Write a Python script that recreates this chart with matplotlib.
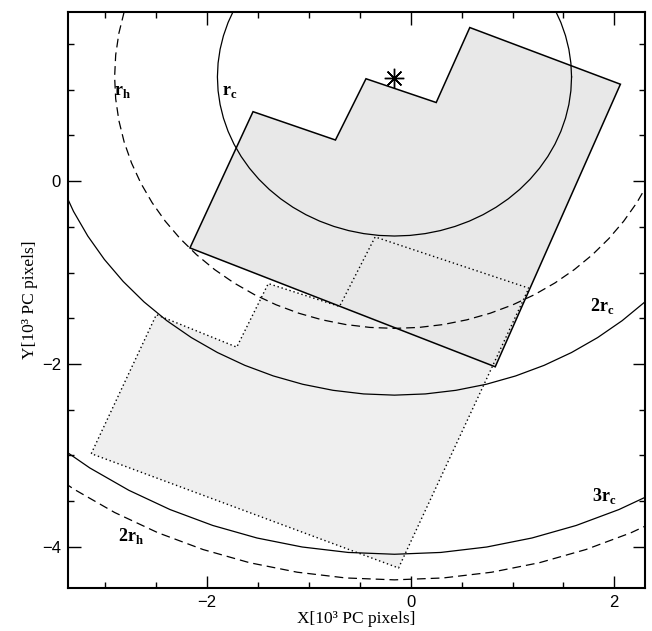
import numpy as np
import matplotlib
matplotlib.use("Agg")
import matplotlib.pyplot as plt

# cluster centre and radii (10^3 PC pixels)
center = (-0.16, 1.14)
r_c = 1.74
r_h = 2.75

# solid field outline (first pointing)
solid_x = [-2.17, -1.55, -0.74, -0.44, 0.25, 0.58, 2.06, 0.83]
solid_y = [-0.73, 0.76, 0.45, 1.12, 0.86, 1.68, 1.06, -2.03]

# dotted field outline (second pointing)
dot_x = [-3.14, -2.50, -1.71, -1.40, -0.70, -0.35, 1.16, -0.12]
dot_y = [-2.98, -1.46, -1.815, -1.12, -1.37, -0.61, -1.17, -4.23]

# circle labels
lab_text = [r"r$_\mathregular{h}$", r"r$_\mathregular{c}$", r"2r$_\mathregular{c}$",
            r"3r$_\mathregular{c}$", r"2r$_\mathregular{h}$"]
lab_x = [-2.83, -1.78, 1.88, 1.90, -2.75]
lab_y = [0.98, 0.98, -1.37, -3.44, -3.88]

plt.rcParams['font.family'] = ['Liberation Serif', 'DejaVu Serif']
plt.rcParams['mathtext.fontset'] = 'custom'
plt.rcParams['mathtext.rm'] = 'Liberation Serif'

fig = plt.figure(figsize=(6.52, 6.31), dpi=100)
ax = fig.add_axes([0.104, 0.068, 0.885, 0.913])

# fields (star stipple shown as light grey)
ax.fill(dot_x, dot_y, facecolor="#efefef", edgecolor="none", zorder=1)
ax.fill(solid_x, solid_y, facecolor="#e8e8e8", edgecolor="none", zorder=1)
ax.fill(dot_x, dot_y, facecolor="none", edgecolor="black", lw=1.0,
        linestyle=(0, (1, 2)), zorder=3)
ax.fill(solid_x, solid_y, facecolor="none", edgecolor="black", lw=1.1, zorder=3)

# circles
t = np.radians(np.arange(0, 361, 5))
for r, ls in [(r_c, "-"), (2 * r_c, "-"), (3 * r_c, "-"),
              (r_h, (0, (7, 4))), (2 * r_h, (0, (7, 4)))]:
    ax.plot(center[0] + r * np.cos(t), center[1] + r * np.sin(t),
            color="black", lw=0.9, linestyle=ls, zorder=2)

# cluster centre
ax.plot(center[0], center[1] - 0.01, marker=(8, 2, 0), markersize=14,
        mew=1.0, color="black", zorder=4)

for s, x, y in zip(lab_text, lab_x, lab_y):
    ax.text(x, y, s, fontsize=13, fontweight="bold", ha="center", va="center")

ax.set_xlim(-3.37, 2.30)
ax.set_ylim(-4.45, 1.85)
ax.set_xticks([-2, 0, 2])
ax.set_yticks([-4, -2, 0])
ax.set_xticks(np.arange(-3, 2.01, 0.5), minor=True)
ax.set_yticks(np.arange(-4, 1.51, 0.5), minor=True)
ax.tick_params(which="both", direction="in", top=True, right=True, width=1)
ax.tick_params(which="major", length=9, labelsize=12, pad=5)
ax.tick_params(which="minor", length=4.5)
ax.set_xticklabels(["\u22122", "0", "2"], family=['Liberation Sans', 'DejaVu Sans'])
ax.set_yticklabels(["\u22124", "\u22122", "0"], family=['Liberation Sans', 'DejaVu Sans'])
for sp in ax.spines.values():
    sp.set_linewidth(1.5)

ax.set_xlabel("X[10³ PC pixels]", fontsize=12.5, labelpad=1)
ax.set_ylabel("Y[10³ PC pixels]", fontsize=12.5, labelpad=3)

fig.savefig("out.png", dpi=100)
